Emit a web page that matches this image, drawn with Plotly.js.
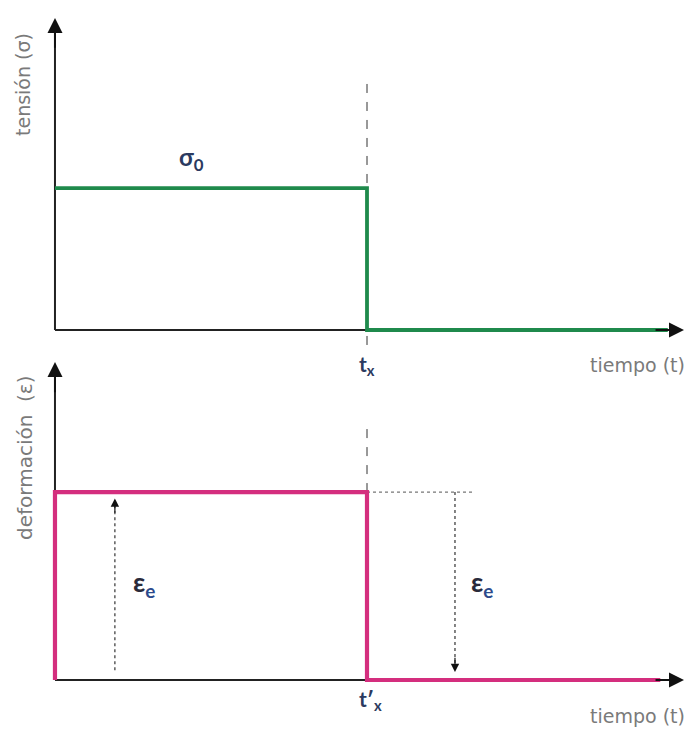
<!DOCTYPE html>
<html>
<head>
<meta charset="utf-8">
<script src="https://cdn.plot.ly/plotly-3.0.1.min.js"></script>
<style>html,body{margin:0;padding:0;background:#fff;}#chart{width:688px;height:729px;}</style>
</head>
<body>
<div id="chart"></div>
<script>
// time of unloading
const tX = 5;
// stress history (top panel)
const sigmaTime = [0, 5, 5, 9.82];
const sigmaValue = [4.55, 4.55, 0, 0];
// strain history (bottom panel)
const epsTime = [0, 0, 5, 5, 9.7];
const epsValue = [0, 5.91, 5.91, 0, 0];
// elastic strain magnitude markers
const epsLevel = 5.91;
const leftArrowX = 0.96;
const rightArrowX = 6.41;
const guideEndX = 6.73;

const GREEN = '#1f8a4c';
const MAGENTA = '#d42e7e';
const NAVY = '#2b3a60';
const GRAY = '#7a7a7a';
const FONT = 'Lato, "Noto Sans", sans-serif';
const LABELFONT = '"DejaVu Sans ExtraLight", "DejaVu Sans", sans-serif';

const traces = [
  {x:[tX,tX], y:[-0.48,8.17], xaxis:'x', yaxis:'y', mode:'lines', line:{color:'#333', width:1, dash:'dash'}},
  {x:[0,10.0], y:[0,0], xaxis:'x', yaxis:'y', mode:'lines', line:{color:'#222', width:2}},
  {x:[0,0], y:[0,9.6], xaxis:'x', yaxis:'y', mode:'lines', line:{color:'#222', width:2}},
  {x:sigmaTime, y:sigmaValue, xaxis:'x', yaxis:'y', mode:'lines', line:{color:GREEN, width:3.8}},

  {x:[tX,tX], y:[epsLevel,8.02], xaxis:'x2', yaxis:'y2', mode:'lines', line:{color:'#333', width:1, dash:'dash'}},
  {x:[tX,guideEndX], y:[epsLevel,epsLevel], xaxis:'x2', yaxis:'y2', mode:'lines', line:{color:'#777', width:1.2, dash:'dot'}},
  {x:[leftArrowX,leftArrowX], y:[0.31,epsLevel-0.35], xaxis:'x2', yaxis:'y2', mode:'lines', line:{color:'#333', width:1.2, dash:'dot'}},
  {x:[rightArrowX,rightArrowX], y:[epsLevel,0.45], xaxis:'x2', yaxis:'y2', mode:'lines', line:{color:'#333', width:1.2, dash:'dot'}},
  {x:[0,10.0], y:[0,0], xaxis:'x2', yaxis:'y2', mode:'lines', line:{color:'#222', width:2}},
  {x:[0,0], y:[0,9.6], xaxis:'x2', yaxis:'y2', mode:'lines', line:{color:'#222', width:2}},
  {x:epsTime, y:epsValue, xaxis:'x2', yaxis:'y2', mode:'lines', line:{color:MAGENTA, width:4.2}}
];

function arrowHead(xr, yr, x, y, ax, ay, w, s, col) {
  return {xref:xr, yref:yr, axref:xr, ayref:yr, x:x, y:y, ax:ax, ay:ay, text:'', showarrow:true,
          arrowhead:2, arrowsize:s, arrowwidth:w, arrowcolor:col};
}

function label(x, yPx, text, size, angle) {
  return {xref:'paper', yref:'paper', x:x/688, y:1-yPx/729, xanchor:'center', yanchor:'middle',
          text:text, textangle:angle || 0, showarrow:false, font:{family:LABELFONT, size:size, color:GRAY}};
}

const annotations = [
  arrowHead('x','y', 0, 10.0, 0, 9.0, 2, 1.5, '#111'),
  arrowHead('x','y', 10.08, 0, 9.6, 0, 2, 1.5, '#111'),
  arrowHead('x2','y2', 0, 10.0, 0, 9.0, 2, 1.5, '#111'),
  arrowHead('x2','y2', 10.08, 0, 9.6, 0, 2, 1.5, '#111'),
  arrowHead('x2','y2', leftArrowX, epsLevel-0.2, leftArrowX, epsLevel-0.7, 1.2, 1.4, '#111'),
  arrowHead('x2','y2', rightArrowX, 0.25, rightArrowX, 0.75, 1.2, 1.4, '#111'),
  // labels
  {xref:'x', yref:'y', x:2.18, y:5.5, xanchor:'center', yanchor:'middle', text:'<b>σ<sub>0</sub></b>', showarrow:false, font:{family:FONT, size:24, color:NAVY}},
  {xref:'x', yref:'paper', x:tX, y:1-365/729, xanchor:'center', yanchor:'middle', text:'<b>t<sub>x</sub></b>', showarrow:false, font:{family:FONT, size:21, color:NAVY}},
  {xref:'x2', yref:'paper', x:tX+0.05, y:1-700/729, xanchor:'center', yanchor:'middle', text:'<b>t′<sub>x</sub></b>', showarrow:false, font:{family:FONT, size:21, color:NAVY}},
  {xref:'x2', yref:'y2', x:1.42, y:3.05, xanchor:'center', yanchor:'middle', text:'<b>ε<sub><span style="color:#2c4a8c">e</span></sub></b>', showarrow:false, font:{family:FONT, size:27, color:'#2a2a3a'}},
  {xref:'x2', yref:'y2', x:6.85, y:3.05, xanchor:'center', yanchor:'middle', text:'<b>ε<sub><span style="color:#2c4a8c">e</span></sub></b>', showarrow:false, font:{family:FONT, size:27, color:'#2a2a3a'}},
  // axis titles
  label(23, 84, 'tensión (σ)', 19, -90),
  label(637, 365, 'tiempo (t)', 19, 0),
  label(25, 458, 'deformación  (ε)', 20, -90),
  label(637, 716, 'tiempo (t)', 19, 0)
];

const hidden = {showgrid:false, zeroline:false, showticklabels:false, ticks:'', showline:false, fixedrange:true};

const layout = {
  width:688, height:729,
  margin:{l:0, r:0, t:0, b:0},
  paper_bgcolor:'#ffffff', plot_bgcolor:'rgba(0,0,0,0)',
  showlegend:false,
  xaxis:Object.assign({}, hidden, {domain:[0,1], range:[-0.881,10.144], anchor:'y'}),
  yaxis:Object.assign({}, hidden, {domain:[0.50069,1], range:[-1.0897,10.577], anchor:'x'}),
  xaxis2:Object.assign({}, hidden, {domain:[0,1], range:[-0.881,10.144], anchor:'y2'}),
  yaxis2:Object.assign({}, hidden, {domain:[0,0.51166], range:[-1.541,10.189], anchor:'x2'}),
  annotations:annotations
};

Plotly.newPlot('chart', traces, layout, {staticPlot:true, displayModeBar:false});
</script>
</body>
</html>
